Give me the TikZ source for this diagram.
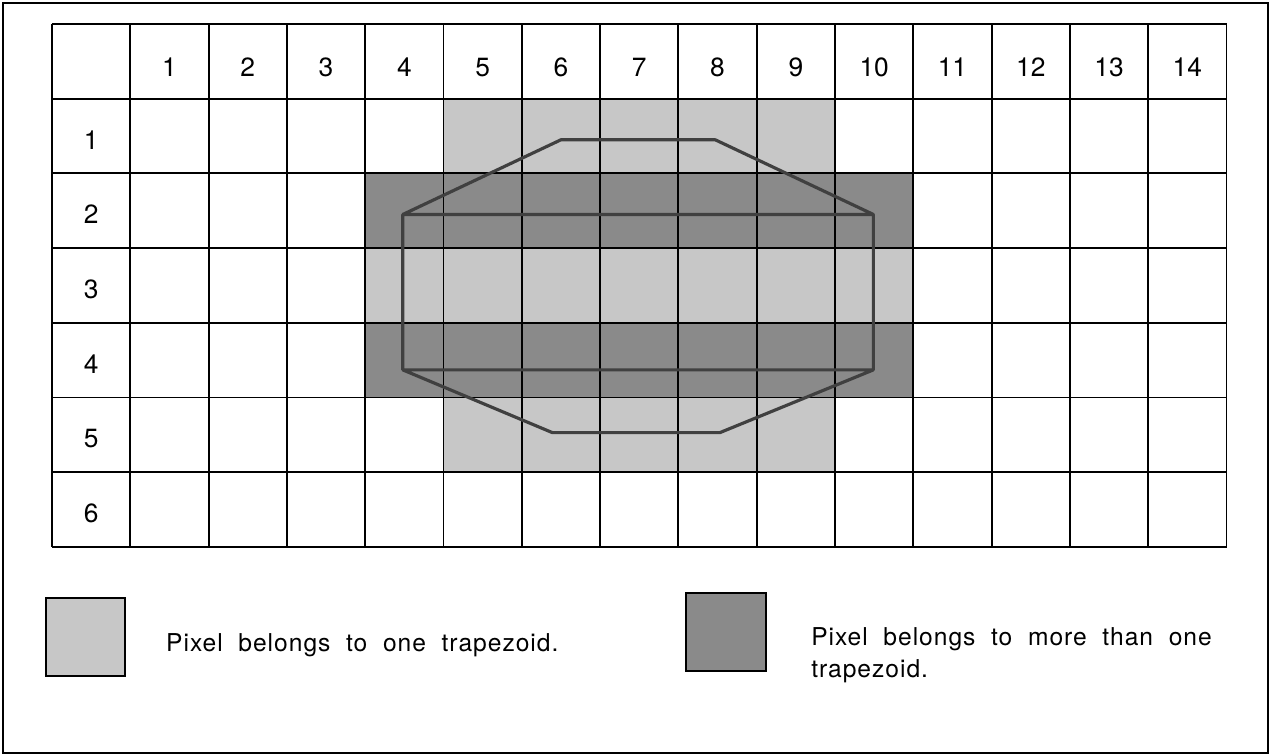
\documentclass[tikz,border=0pt]{standalone}
\usepackage{fontspec}
\setmainfont{TeX Gyre Heros}
\newfontfamily\legendfont[LetterSpace=4.0,WordSpace=2.0]{TeX Gyre Heros}
\usepackage{tikz}
\usetikzlibrary{positioning}
\definecolor{onetrap}{gray}{0.78}
\definecolor{manytrap}{gray}{0.54}
\definecolor{trapline}{gray}{0.25}
\newcommand{\shaderow}[4]{%
  \fill[#4] (#2,-#1) rectangle ++(#3,-1);%
}

\begin{document}
\begin{tikzpicture}[x=1.566cm,y=1.494cm,
    cellnum/.style={font=\fontsize{15}{18}\selectfont},
    keybox/.style={draw,line width=1pt,minimum width=1.58cm,minimum height=1.56cm,inner sep=0pt},
    keytext/.style={font=\fontsize{14}{18.2}\selectfont\legendfont,anchor=west,align=left,inner sep=0pt}]
  \useasboundingbox (-0.664,0.321) rectangle (15.568,-9.786);
  \draw[line width=0.85pt] (-0.626,0.281) rectangle (15.53,-9.76);
  % shaded pixels
  \shaderow{1}{5}{5}{onetrap}
  \shaderow{2}{4}{7}{manytrap}
  \shaderow{3}{4}{7}{onetrap}
  \shaderow{4}{4}{7}{manytrap}
  \shaderow{5}{5}{5}{onetrap}
  \draw[line width=1.1pt] (0,0) grid[step=1] (15,-7);
  \foreach \c in {1,...,14} \node[cellnum] (col\c) at (\c+0.5,-0.58) {\c};
  \foreach \r in {1,...,6} \node[cellnum] (row\r) at (0.5,-\r-0.55) {\r};
  % trapezoids
  \coordinate (tpl) at (6.50,-1.55);
  \coordinate (tpr) at (8.47,-1.55);
  \coordinate (ul) at (4.48,-2.55);
  \coordinate (ur) at (10.49,-2.55);
  \coordinate (ll) at (4.48,-4.63);
  \coordinate (lr) at (10.49,-4.63);
  \coordinate (btl) at (6.39,-5.47);
  \coordinate (btr) at (8.53,-5.47);
  \draw[trapline,line width=1.8pt,line join=round]
    (ul) -- (tpl) -- (tpr) -- (ur) -- cycle
    (ul) -- (ll) -- (lr) -- (ur)
    (ll) -- (btl) -- (btr) -- (lr);
  % legend
  \node[keybox,fill=onetrap] (onekey) at (0.428,-8.206) {};
  \node[keytext,right=0.8cm of onekey,yshift=-0.16cm] (onetext) {Pixel belongs to one trapezoid.};
  \node[keybox,fill=manytrap,minimum width=1.6cm] (manykey) at (8.608,-8.139) {};
  \node[keytext,right=0.88cm of manykey,yshift=-0.46cm] (manytext) {Pixel belongs to more than one\\trapezoid.};
\end{tikzpicture}
\end{document}
